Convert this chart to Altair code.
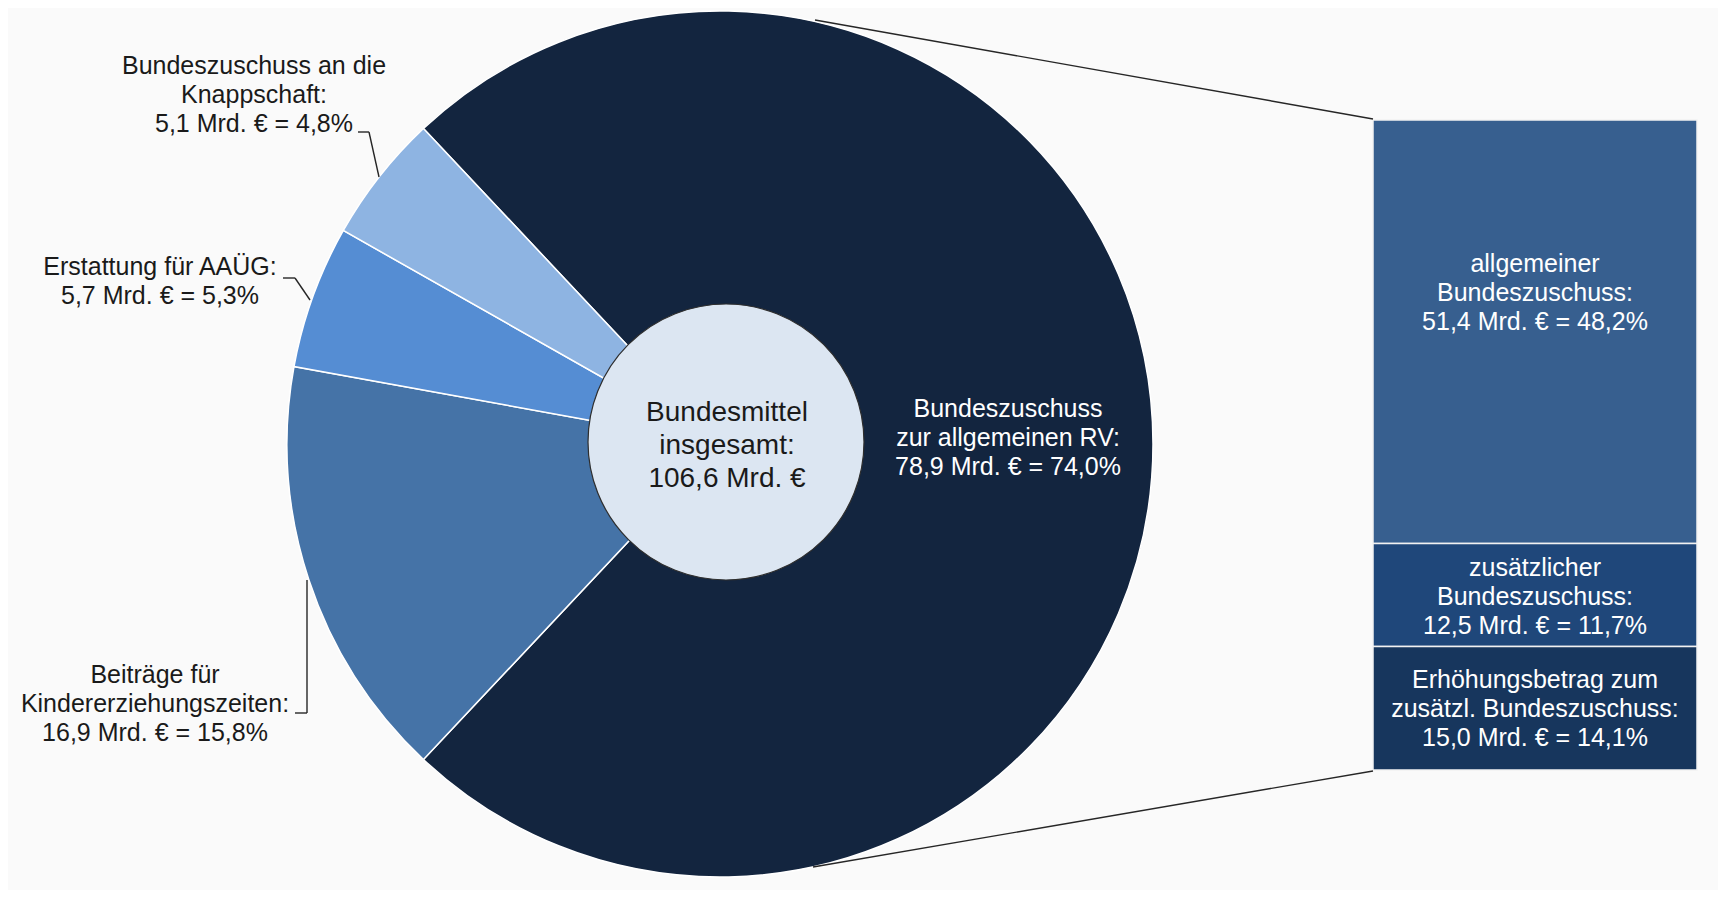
import math
import altair as alt
import pandas as pd

# ---- data ----
pie_names = ["Bundeszuschuss\nzur allgemeinen RV", "Beiträge für\nKindererziehungszeiten",
             "Erstattung für AAÜG", "Bundeszuschuss an die\nKnappschaft"]
pie_values = [78.9, 16.9, 5.7, 5.1]
pie_shares = [74.0, 15.8, 5.3, 4.8]
pie_colors = ["#13253f", "#4573a7", "#558dd3", "#8eb4e2"]

bar_names = ["allgemeiner\nBundeszuschuss", "zusätzlicher\nBundeszuschuss",
             "Erhöhungsbetrag zum\nzusätzl. Bundeszuschuss"]
bar_values = [51.4, 12.5, 15.0]
bar_shares = [48.2, 11.7, 14.1]
bar_colors = ["#375f8f", "#1f477a", "#17365d"]

total_value = 106.6
center_title = "Bundesmittel\ninsgesamt:"

# ---- layout (page pixels) ----
OFF = 8
CX, CY, R = 720, 442, 433
ICX, ICY, IR = 726, 440, 138
BAR_L, BAR_R, BAR_T, BAR_B = 1373, 1697, 118, 768
FONT = "Liberation Sans"


def de(v):
    return f"{v:.1f}".replace(".", ",")


def lab(name, v, s):
    return f"{name}:\n{de(v)} Mrd. € = {de(s)}%"


total = sum(pie_values)
start = math.pi / 2 - math.pi * pie_values[0] / total

pie_df = pd.DataFrame({"name": pie_names, "value": pie_values, "idx": list(range(len(pie_names)))})
pie = alt.Chart(pie_df).mark_arc(radius=R, stroke="white", strokeWidth=1.5).encode(
    theta=alt.Theta("value:Q", stack=True,
                    scale=alt.Scale(domain=[0, total], range=[start, start + 2 * math.pi])),
    color=alt.Color("name:N", scale=alt.Scale(domain=pie_names, range=pie_colors), legend=None),
    order=alt.Order("idx:Q"),
    x=alt.value(CX - OFF), y=alt.value(CY - OFF),
)

dummy = pd.DataFrame({"k": [0]})

inner = alt.Chart(dummy).mark_circle(
    size=(2 * IR) ** 2, color="#dce6f2", opacity=1, stroke="#2e2e2e", strokeWidth=1.2
).encode(x=alt.value(ICX - OFF), y=alt.value(ICY - OFF))

bar_df = pd.DataFrame({"part": bar_names, "amount": bar_values, "pos": list(range(len(bar_names)))})
bar = alt.Chart(bar_df).transform_window(
    cum="sum(amount)", sort=[alt.SortField("pos")], frame=[None, 0]
).transform_calculate(
    lo="datum.cum - datum.amount"
).mark_bar(stroke="#f2f2f2", strokeWidth=1.5).encode(
    y=alt.Y("lo:Q", axis=None,
            scale=alt.Scale(domain=[0, sum(bar_values)], range=[BAR_T - OFF, BAR_B - OFF],
                            nice=False, zero=False)),
    y2="cum:Q",
    x=alt.value(BAR_L - OFF), x2=alt.value(BAR_R - OFF),
    fill=alt.Fill("part:N", scale=alt.Scale(domain=bar_names, range=bar_colors), legend=None),
)


def text_layer(text, x, y, color, size=25, lh=29):
    # y is the centre of the first line
    return alt.Chart(pd.DataFrame({"t": [text]})).mark_text(
        lineBreak="\n", fontSize=size, lineHeight=lh, font=FONT, color=color,
        align="center", baseline="middle"
    ).encode(text="t:N", x=alt.value(x - OFF), y=alt.value(y - OFF))


def seg(x1, y1, x2, y2, color="#262626", w=1.4):
    return alt.Chart(dummy).mark_rule(color=color, strokeWidth=w).encode(
        x=alt.value(x1 - OFF), y=alt.value(y1 - OFF), x2=alt.value(x2 - OFF), y2=alt.value(y2 - OFF))


texts = [
    text_layer(lab(pie_names[0], pie_values[0], pie_shares[0]), 1008, 407, "white"),
    text_layer(lab(pie_names[1], pie_values[1], pie_shares[1]), 155, 673, "#1a1a1a"),
    text_layer(lab(pie_names[2], pie_values[2], pie_shares[2]), 160, 265, "#1a1a1a"),
    text_layer(lab(pie_names[3], pie_values[3], pie_shares[3]), 254, 64, "#1a1a1a"),
    text_layer(f"{center_title}\n{de(total_value)} Mrd. €", 727, 411, "#1a1a1a", size=28, lh=33),
    text_layer(lab(bar_names[0], bar_values[0], bar_shares[0]), 1535, 262, "white"),
    text_layer(lab(bar_names[1], bar_values[1], bar_shares[1]), 1535, 566, "white"),
    text_layer(lab(bar_names[2], bar_values[2], bar_shares[2]), 1535, 678, "white"),
]

lines = [
    seg(815, 18, BAR_L, BAR_T - 1),
    seg(813, 865, BAR_L, BAR_B + 1),
    seg(358, 130, 369, 130), seg(369, 130, 379, 175),
    seg(283, 276, 295, 276), seg(295, 276, 310, 298),
    seg(295, 711, 307, 711), seg(307, 711, 307, 578),
]

chart = alt.layer(pie, inner, bar, *lines, *texts).resolve_scale(
    color="independent", fill="independent"
).properties(
    width=1710, height=880, padding=0, background="#fafafa"
).configure_view(stroke=None)

chart.save("out.html", embed_options={"renderer": "svg", "actions": False})
